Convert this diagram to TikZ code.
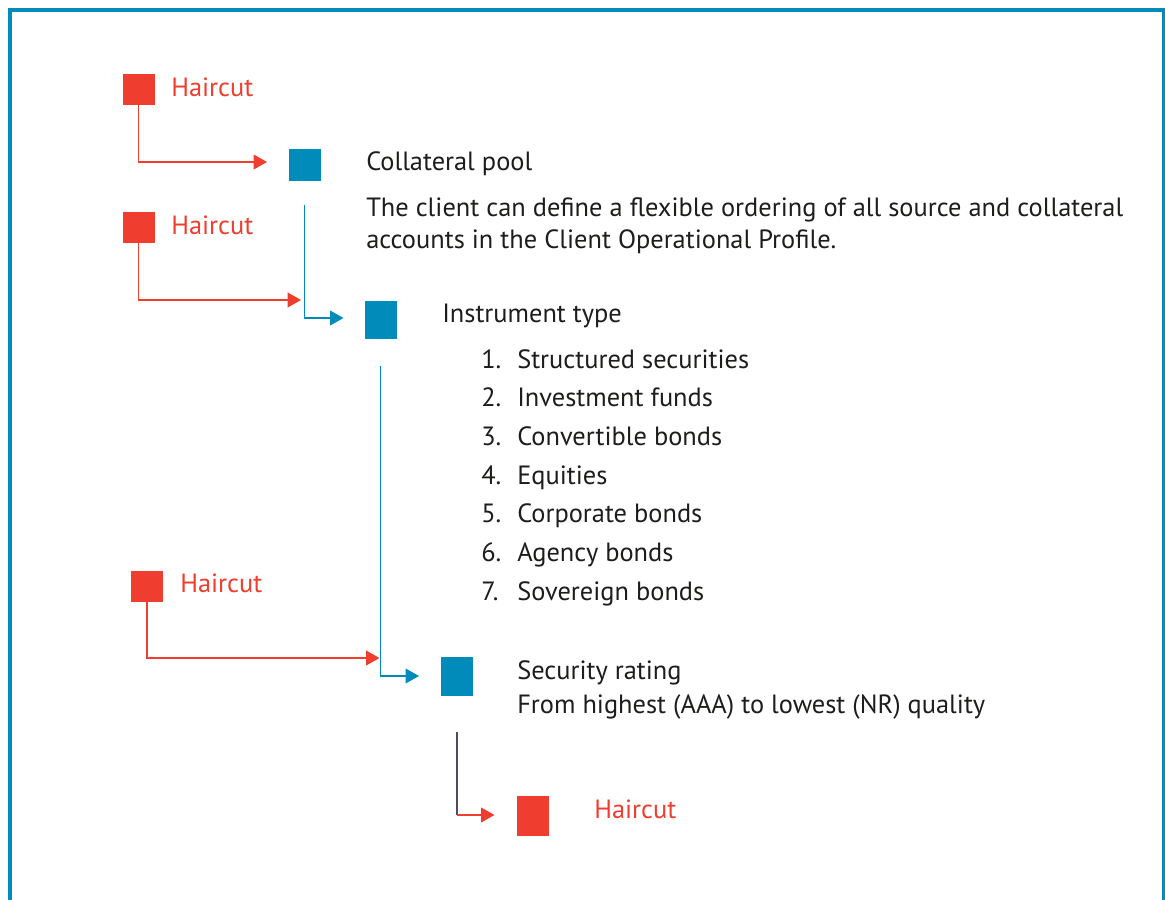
\documentclass[tikz,border=0pt]{standalone}
\usepackage{fontspec}
\setmainfont{PT Sans}
\usepackage{xcolor}
\usetikzlibrary{positioning,arrows.meta}

\definecolor{hcred}{HTML}{EF3E2F}
\definecolor{poolblue}{HTML}{008BBA}
\definecolor{txtgray}{HTML}{1D1D1B}
\definecolor{slate}{HTML}{4E4A66}

\begin{document}
\begin{tikzpicture}[
    x=0.75pt,y=-0.75pt,
    >={Triangle[length=10pt,width=11pt]},
    sq/.style={draw=none,inner sep=0,minimum width=24pt,minimum height=23.5pt},
    tallsq/.style={sq,minimum height=29pt},
    redsq/.style={sq,fill=hcred},
    bluesq/.style={sq,fill=poolblue},
    txt/.style={inner sep=0,anchor=base west,text=txtgray,font=\fontsize{19.8}{24.75}\selectfont,align=left},
    hctxt/.style={txt,text=hcred},
    hline/.style={->,draw=hcred,line width=1.1pt},
    vline/.style={->,draw=poolblue,line width=1pt}
]
    % frame
    \useasboundingbox (0,0) rectangle (1165,900);
    \clip (0,0) rectangle (1165,900);
    \draw[poolblue,line width=2.3pt] (10,960) -- (10,10) -- (1164,10) -- (1164,960);

    % Squares
    \node[redsq] (hcA) at (138.5,89.5) {};
    \node[redsq] (hcB) at (138.5,227.2) {};
    \node[redsq] (hcC) at (147,586.5) {};
    \node[redsq,minimum height=30pt] (hcD) at (533,816.3) {};
    \node[bluesq] (pool) at (305.3,165) {};
    \node[bluesq,tallsq] (instr) at (381,320) {};
    \node[bluesq,tallsq] (rating) at (456.5,676.6) {};

    % Labels
    \node[hctxt] (hcAt) at (171,96.5) {Haircut};
    \node[hctxt] (hcBt) at (171,234.5) {Haircut};
    \node[hctxt] (hcCt) at (180,592.5) {Haircut};
    \node[hctxt] (hcDt) at (594,818.5) {Haircut};
    \node[txt] (poolt) at (366,170.5) {Collateral pool};
    \node[txt] (poold) at (366,248.7) {The client can define a flexible ordering of all source and collateral\\[-0.75pt]accounts in the Client Operational Profile.};
    \node[txt] (instrt) at (442,322.5) {Instrument type};
    \foreach \i/\name [count=\k from 0] in {1/Structured securities,2/Investment funds,3/Convertible bonds,4/Equities,5/Corporate bonds,6/Agency bonds,7/Sovereign bonds}{
        \node[txt] (num\i) at (481,368+38.7*\k) {\i.};
        \node[txt] (item\i) at (517,368+38.7*\k) {\name};
    }
    \node[txt] (ratingt) at (517,713) {Security rating\\[0.75pt]From highest (AAA) to lowest (NR) quality};

    % Connector ends
    \coordinate (tA) at (267,162);
    \coordinate (sA) at (304.7,204.5);
    \coordinate (tB) at (343.5,318);
    \coordinate (tC) at (301,300);
    \coordinate (sB) at (380.7,366);
    \coordinate (tD) at (419,676);
    \coordinate (tE) at (379.5,658);
    \coordinate (sC) at (457,732);
    \coordinate (tF) at (494.5,815);

    % Connectors
    \draw[hline] (hcA.south) |- (tA);
    \draw[vline] (sA) |- (tB);
    \draw[hline] (hcB.south) |- (tC);
    \draw[vline] (sB) |- (tD);
    \draw[hline] (hcC.south) |- (tE);
    \draw[slate,line width=1.1pt] (sC) -- (sC |- tF);
    \draw[hline] (sC |- tF) -- (tF);
\end{tikzpicture}
\end{document}
